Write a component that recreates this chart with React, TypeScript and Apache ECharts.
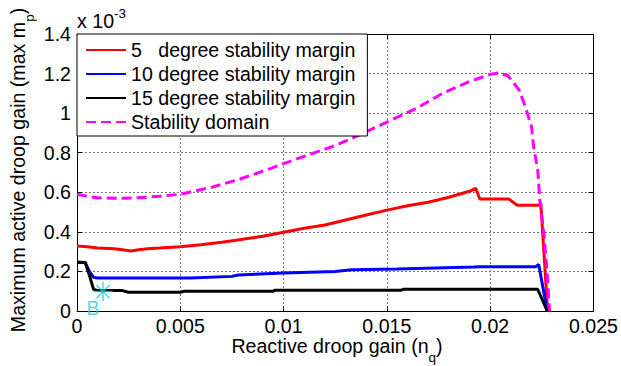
import React, { useEffect, useRef } from "react";
import * as echarts from "echarts";

// x: reactive droop gain n_q ; y: max active droop gain m_p (in units of 1e-3)
const margin5: [number, number][] = [
  [0, 0.328], [0.0005, 0.325], [0.001, 0.318], [0.0018, 0.315], [0.0022, 0.31],
  [0.0026, 0.303], [0.003, 0.31], [0.0034, 0.315], [0.004, 0.318], [0.005, 0.325],
  [0.006, 0.335], [0.007, 0.348], [0.0077, 0.358], [0.009, 0.378], [0.01, 0.398],
  [0.011, 0.418], [0.012, 0.435], [0.013, 0.46], [0.014, 0.485], [0.015, 0.51],
  [0.016, 0.532], [0.017, 0.55], [0.018, 0.575], [0.019, 0.605], [0.0193, 0.62],
  [0.0195, 0.566], [0.0209, 0.566], [0.0213, 0.535], [0.0224, 0.535], [0.02245, 0.545],
  [0.02278, 0],
];
const margin10: [number, number][] = [
  [0, 0.245], [0.0004, 0.245], [0.0006, 0.2], [0.0008, 0.17], [0.001, 0.167],
  [0.0055, 0.167], [0.0075, 0.175], [0.0078, 0.182], [0.01, 0.192], [0.0125, 0.2],
  [0.0133, 0.208], [0.0155, 0.212], [0.0169, 0.216], [0.0192, 0.222], [0.0195, 0.224],
  [0.0222, 0.224], [0.02235, 0.235], [0.02276, 0],
];
const margin15: [number, number][] = [
  [0, 0.248], [0.0004, 0.245], [0.0006, 0.18], [0.0008, 0.11], [0.001, 0.103],
  [0.0022, 0.103], [0.0025, 0.095], [0.005, 0.095], [0.0052, 0.1], [0.0095, 0.1],
  [0.0096, 0.105], [0.0157, 0.105], [0.0158, 0.11], [0.0223, 0.11], [0.02276, 0],
];
const stabilityDomain: [number, number][] = [
  [0, 0.59], [0.0005, 0.58], [0.001, 0.572], [0.002, 0.57], [0.003, 0.572],
  [0.004, 0.58], [0.005, 0.59], [0.0065, 0.625], [0.0079, 0.667], [0.00936, 0.72],
  [0.01, 0.745], [0.01255, 0.838], [0.01383, 0.897], [0.015, 0.955], [0.01654, 1.03],
  [0.01766, 1.098], [0.01893, 1.157], [0.02, 1.196], [0.02037, 1.203], [0.02085, 1.19],
  [0.0214, 1.117], [0.0217, 1.032], [0.022, 0.932], [0.0221, 0.831], [0.0223, 0.714],
  [0.0224, 0.562], [0.0226, 0.393], [0.02276, 0.19], [0.02287, 0],
];
const pointB: [number, number][] = [[0.00126, 0.098]];

const seriesNames = [
  "5   degree stability margin",
  "10 degree stability margin",
  "15 degree stability margin",
  "Stability domain",
];

const FONT = "'Liberation Sans', Arial, sans-serif";
const FS = 19.6;
const CYAN = "#1fd3d3";

export default function App() {
  const ref = useRef<HTMLDivElement>(null);
  useEffect(() => {
    if (!ref.current) return;
    const chart = echarts.init(ref.current, undefined, { renderer: "svg" });
    const axisCommon = {
      min: 0,
      axisLine: { show: true, onZero: false, lineStyle: { color: "#000", width: 1 } },
      axisTick: { show: true, inside: true, length: 5, lineStyle: { color: "#000" } },
    };
    const grid = { show: true, lineStyle: { color: "#777", type: [2, 2], width: 1 } };
    chart.setOption({
      animation: false,
      backgroundColor: "#fff",
      textStyle: { fontFamily: FONT },
      grid: { left: 77, right: 24, top: 34, bottom: 55, containLabel: false },
      xAxis: [
        {
          ...axisCommon, type: "value", max: 0.025, interval: 0.005, position: "bottom",
          axisLabel: { color: "#000", fontSize: FS, fontFamily: FONT, margin: 5 },
          splitLine: grid,
        },
        {
          ...axisCommon, type: "value", max: 0.025, interval: 0.005, position: "top",
          axisLabel: { show: false }, splitLine: { show: false },
        },
      ],
      yAxis: [
        {
          ...axisCommon, type: "value", max: 1.4, interval: 0.2, position: "left",
          axisLabel: { color: "#000", fontSize: FS, fontFamily: FONT, margin: 6 },
          splitLine: grid,
        },
        {
          ...axisCommon, type: "value", max: 1.4, interval: 0.2, position: "right",
          axisLabel: { show: false }, splitLine: { show: false },
        },
      ],
      legend: {
        data: seriesNames,
        orient: "vertical",
        left: 77,
        top: 34,
        backgroundColor: "#fff",
        borderColor: "#000",
        borderWidth: 1,
        borderRadius: 0,
        padding: [6, 12, 4, 8],
        itemWidth: 40,
        itemHeight: 20,
        itemGap: 4,
        itemStyle: { opacity: 0 },
        textStyle: { color: "#000", fontSize: FS, fontFamily: FONT, lineHeight: 20 },
      },
      series: [
        {
          name: seriesNames[0], type: "line", data: margin5, symbol: "none",
          lineStyle: { color: "#ff0000", width: 3 }, itemStyle: { color: "#ff0000" },
        },
        {
          name: seriesNames[1], type: "line", data: margin10, symbol: "none",
          lineStyle: { color: "#0000ff", width: 3 }, itemStyle: { color: "#0000ff" },
        },
        {
          name: seriesNames[2], type: "line", data: margin15, symbol: "none",
          lineStyle: { color: "#000000", width: 3 }, itemStyle: { color: "#000000" },
        },
        {
          name: seriesNames[3], type: "line", data: stabilityDomain, symbol: "none",
          lineStyle: { color: "#ff00ff", width: 3, type: [10, 5] }, itemStyle: { color: "#ff00ff" },
        },
        {
          name: "B", type: "scatter", data: pointB,
          symbol: "path://M0,-10L0,10M-10,0L10,0M-7,-7L7,7M-7,7L7,-7",
          symbolSize: 19,
          itemStyle: { color: "rgba(0,0,0,0)", borderColor: CYAN, borderWidth: 1.5 },
          label: {
            show: true, formatter: "B", position: "inside", offset: [-10, 16],
            color: CYAN, fontSize: FS, fontFamily: FONT,
          },
          z: 5,
        },
      ],
      graphic: [
        {
          type: "text",
          left: 77,
          top: 6,
          style: {
            text: "x 10{sup|-3}",
            fontSize: FS,
            fontFamily: FONT,
            fill: "#000",
            lineHeight: 30,
            rich: {
              sup: { fontSize: 13.5, fontFamily: FONT, verticalAlign: "top", lineHeight: 30 },
            },
          },
        },
        {
          type: "text",
          x: 337,
          y: 346,
          style: {
            text: "Reactive droop gain (n{sub|q})",
            fontSize: FS,
            fontFamily: FONT,
            fill: "#000",
            align: "center",
            verticalAlign: "middle",
            lineHeight: 20,
            rich: {
              sub: { fontSize: 13.5, fontFamily: FONT, verticalAlign: "bottom", lineHeight: 36 },
            },
          },
        },
        {
          type: "text",
          x: 18,
          y: 170,
          rotation: Math.PI / 2,
          style: {
            text: "Maximum active droop gain (max m{sub|p})",
            fontSize: FS,
            fontFamily: FONT,
            fill: "#000",
            align: "center",
            verticalAlign: "middle",
            lineHeight: 20,
            rich: {
              sub: { fontSize: 13.5, fontFamily: FONT, verticalAlign: "bottom", lineHeight: 36 },
            },
          },
        },
      ],
    });
    return () => chart.dispose();
  }, []);
  return (
    <div
      ref={ref}
      style={{ position: "fixed", left: 0, top: 0, width: 621, height: 366, background: "#fff" }}
    />
  );
}
